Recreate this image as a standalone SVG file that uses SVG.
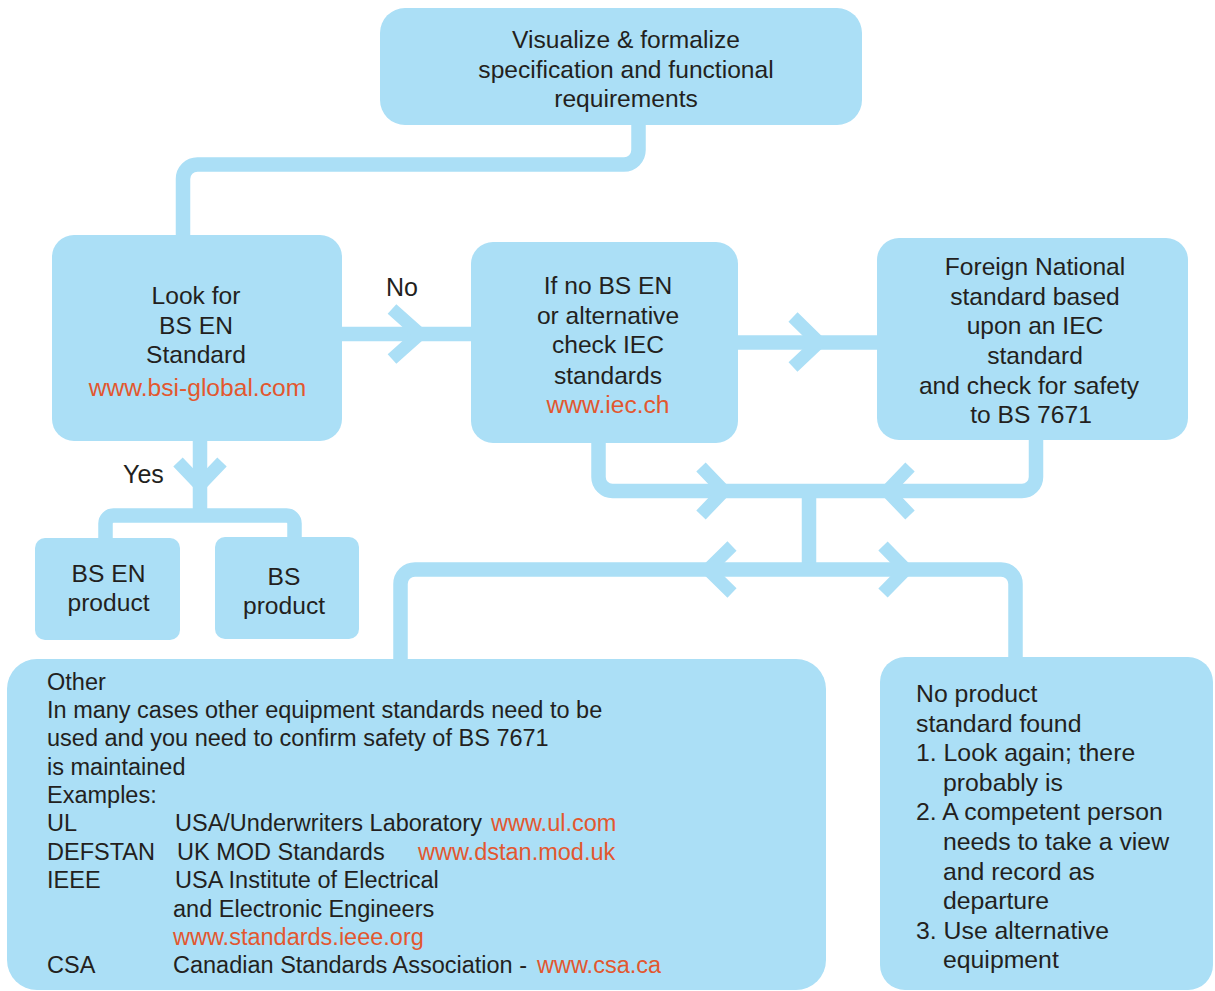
<svg xmlns="http://www.w3.org/2000/svg" width="1215" height="991" viewBox="0 0 1215 991">
<style>
.box{fill:#abdff6}
.ln{fill:none;stroke:#abdff6;stroke-width:14.5}
.ch{fill:none;stroke:#abdff6;stroke-width:13;stroke-linejoin:miter;stroke-miterlimit:10}
text{font-family:"Liberation Sans",Arial,Helvetica,sans-serif;fill:#231f20}
.t{font-size:24.6px;text-anchor:middle}
.o{font-size:23.5px}
.n{font-size:24.8px}
.u{fill:#e2572f}
.lbl{font-size:25px}
</style>
<rect width="1215" height="991" fill="#ffffff"/>
<g id="connectors">
<path class="ln" d="M638.5,124 V150 A14.5,14.5 0 0 1 624,164.5 H197.5 A14.5,14.5 0 0 0 183,179 V237"/>
<path class="ln" d="M341,334 H472"/>
<polyline class="ch" points="392,309 420,334 392,359"/>
<path class="ln" d="M737,342.5 H879"/>
<polyline class="ch" points="793,317 819,342.5 793,367"/>
<path class="ln" d="M598.5,441 V477 A14,14 0 0 0 612.5,491 H1022 A14,14 0 0 0 1036,477 V439"/>
<polyline class="ch" points="701,467 724,491 701,515"/>
<polyline class="ch" points="910,467 887,491 910,515"/>
<path class="ln" d="M809,491 V570"/>
<path class="ln" d="M400.5,660 V584 A14.5,14.5 0 0 1 415,569.5 H1001 A14.5,14.5 0 0 1 1015.5,584 V659"/>
<polyline class="ch" points="732,546 708,569.5 732,593"/>
<polyline class="ch" points="883,546 906,569.5 883,593"/>
<path class="ln" d="M200,440 V516"/>
<path class="ln" d="M105.5,539 V523.5 A8,8 0 0 1 113.5,515.5 H286.5 A8,8 0 0 1 294.5,523.5 V538"/>
<polyline class="ch" points="178,462 200,485 222,462"/>
<text class="lbl" x="386" y="296">No</text>
<text class="lbl" x="123" y="483">Yes</text>
</g>
<g id="n-visualize">
<rect class="box" x="380" y="8" width="482" height="117" rx="25"/>
<text class="t" x="626" y="48">Visualize &amp; formalize</text>
<text class="t" x="626" y="78">specification and functional</text>
<text class="t" x="626" y="107">requirements</text>
</g>
<g id="n-lookfor">
<rect class="box" x="52" y="235" width="290" height="206" rx="22"/>
<text class="t" x="196" y="304">Look for</text>
<text class="t" x="196" y="334">BS EN</text>
<text class="t" x="196" y="363">Standard</text>
<text class="t u" x="197.5" y="396">www.bsi-global.com</text>
</g>
<g id="n-ifno">
<rect class="box" x="471" y="242" width="267" height="201" rx="22"/>
<text class="t" x="608" y="294">If no BS EN</text>
<text class="t" x="608" y="324">or alternative</text>
<text class="t" x="608" y="353">check IEC</text>
<text class="t" x="608" y="384">standards</text>
<text class="t u" x="608" y="413">www.iec.ch</text>
</g>
<g id="n-foreign">
<rect class="box" x="877" y="238" width="311" height="202" rx="22"/>
<text class="t" x="1035" y="275">Foreign National</text>
<text class="t" x="1035" y="305">standard based</text>
<text class="t" x="1035" y="334">upon an IEC</text>
<text class="t" x="1035" y="364">standard</text>
<text class="t" x="1029" y="394">and check for safety</text>
<text class="t" x="1031" y="423">to BS 7671</text>
</g>
<g id="n-bsen-product">
<rect class="box" x="35" y="538" width="145" height="102" rx="10"/>
<text class="t" x="108.5" y="582">BS EN</text>
<text class="t" x="108.5" y="611">product</text>
</g>
<g id="n-bs-product">
<rect class="box" x="215" y="537" width="144" height="102" rx="10"/>
<text class="t" x="284" y="585">BS</text>
<text class="t" x="284" y="614">product</text>
</g>
<g id="n-other">
<rect class="box" x="7" y="659" width="819" height="331" rx="30"/>
<text class="o" x="47" y="689.5">Other</text>
<text class="o" x="47" y="718">In many cases other equipment standards need to be</text>
<text class="o" x="47" y="746">used and you need to confirm safety of BS 7671</text>
<text class="o" x="47" y="774.5">is maintained</text>
<text class="o" x="47" y="803">Examples:</text>
<text class="o" x="47" y="831">UL</text>
<text class="o" x="175" y="831">USA/Underwriters Laboratory</text>
<text class="o u" x="491" y="831">www.ul.com</text>
<text class="o" x="47" y="859.5">DEFSTAN</text>
<text class="o" x="177" y="859.5">UK MOD Standards</text>
<text class="o u" x="418" y="859.5">www.dstan.mod.uk</text>
<text class="o" x="47" y="888">IEEE</text>
<text class="o" x="175" y="888">USA Institute of Electrical</text>
<text class="o" x="173" y="916.5">and Electronic Engineers</text>
<text class="o u" x="173" y="945">www.standards.ieee.org</text>
<text class="o" x="47" y="973">CSA</text>
<text class="o" x="173" y="973">Canadian Standards Association -</text>
<text class="o u" x="537" y="973">www.csa.ca</text>
</g>
<g id="n-noproduct">
<rect class="box" x="880" y="657" width="333" height="333" rx="25"/>
<text class="n" x="916" y="702">No product</text>
<text class="n" x="916" y="731.6">standard found</text>
<text class="n" x="916" y="761.2">1. Look again; there</text>
<text class="n" x="943" y="790.8">probably is</text>
<text class="n" x="916" y="820.4">2. A competent person</text>
<text class="n" x="943" y="850">needs to take a view</text>
<text class="n" x="943" y="879.6">and record as</text>
<text class="n" x="943" y="909.2">departure</text>
<text class="n" x="916" y="938.8">3. Use alternative</text>
<text class="n" x="943" y="968.4">equipment</text>
</g>
</svg>
